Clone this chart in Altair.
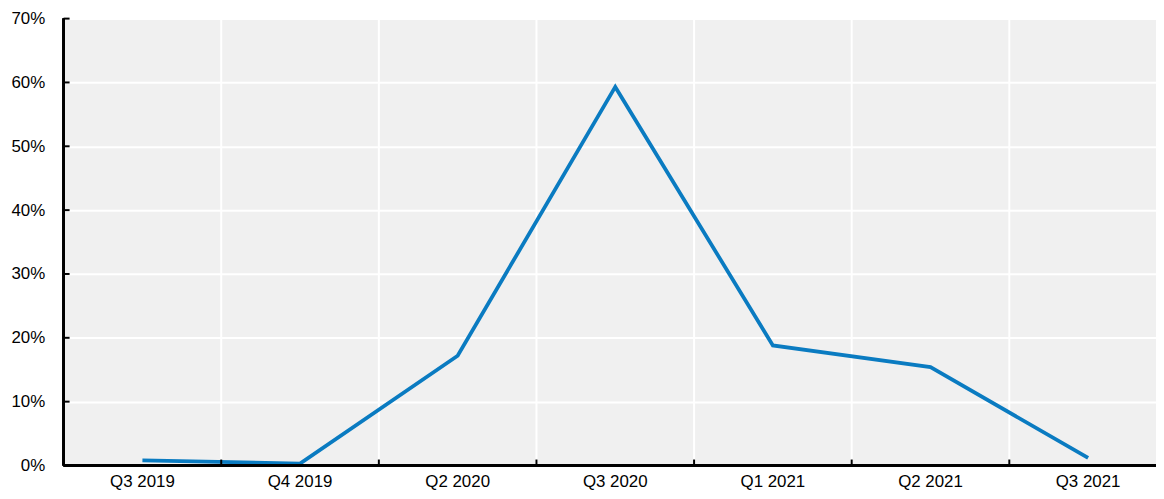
import altair as alt
import pandas as pd

categories = ["Q3 2019", "Q4 2019", "Q2 2020", "Q3 2020", "Q1 2021", "Q2 2021", "Q3 2021"]
values = [0.8, 0.3, 17.2, 59.3, 18.8, 15.4, 1.2]
y_ticks = [0, 10, 20, 30, 40, 50, 60, 70]

W, H = 1100, 450
LINE = "#0a7bc1"
FONT = "Liberation Sans"
FS = 17

df = pd.DataFrame({"cat": categories, "val": values})
ticks_df = pd.DataFrame({"t": y_ticks})

xscale = alt.Scale(domain=categories, range=[0, 1111], paddingInner=0, paddingOuter=0)
yscale = alt.Scale(domain=[0, 70])

x_axis = alt.Axis(title=None, grid=False, ticks=False, domain=False, labelAngle=0,
                  labelFontSize=FS, labelFont=FONT, labelColor="#000000", labelPadding=8)
y_axis = alt.Axis(title=None, values=y_ticks, grid=True, gridColor="#ffffff", gridWidth=2,
                  ticks=False, domain=False,
                  labelExpr="datum.value + '%'", labelFontSize=FS, labelFont=FONT,
                  labelColor="#000000", labelPadding=19)

base = alt.Chart(df)

vgrid = base.mark_rule(color="#ffffff", strokeWidth=2).encode(
    x=alt.X("cat:N", sort=categories, scale=xscale, axis=x_axis, bandPosition=0),
    y=alt.value(0), y2=alt.value(H),
).transform_filter(alt.datum.cat != categories[0])

line = base.mark_line(color=LINE, strokeWidth=3.8).encode(
    x=alt.X("cat:N", sort=categories, scale=xscale, axis=x_axis),
    y=alt.Y("val:Q", scale=yscale, axis=y_axis),
)

xticks = base.mark_rule(color="#000000", strokeWidth=2).encode(
    x=alt.X("cat:N", sort=categories, scale=xscale, axis=x_axis, bandPosition=0),
    y=alt.value(H - 6), y2=alt.value(H),
)

yticks = alt.Chart(ticks_df).mark_rule(color="#000000", strokeWidth=2).encode(
    y=alt.Y("t:Q", scale=yscale, axis=y_axis),
    x=alt.value(0), x2=alt.value(6),
)

ydomain = alt.Chart(ticks_df).mark_rule(color="#000000", strokeWidth=2).encode(
    y=alt.value(0), y2=alt.value(H), x=alt.value(0),
)

xdomain = alt.Chart(ticks_df).mark_rule(color="#000000", strokeWidth=2).encode(
    x=alt.value(0), x2=alt.value(W), y=alt.value(H),
)

chart = alt.layer(vgrid, line, yticks, xticks, ydomain, xdomain).properties(
    width=W, height=H,
    autosize=alt.AutoSizeParams(type="none"),
    padding={"left": 56, "top": 9, "right": 0, "bottom": 24},
).configure_view(fill="#f0f0f0", stroke=None)

chart.save("out.html", embed_options={"renderer": "svg", "actions": False})
